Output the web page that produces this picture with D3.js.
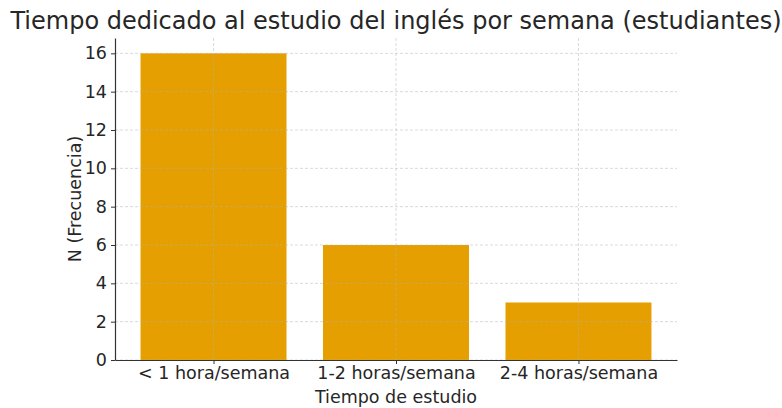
<!DOCTYPE html>
<html><head><meta charset="utf-8">
<script src="https://cdn.jsdelivr.net/npm/d3@7"></script>
<style>
body{margin:0;background:#fff;}
svg{display:block;font-family:"DejaVu Sans",sans-serif;}
</style></head>
<body><svg id="c" width="782" height="408"></svg>
<script>
const categories = ["< 1 hora/semana", "1-2 horas/semana", "2-4 horas/semana"];
const values = [16, 6, 3];
const yTicks = [0, 2, 4, 6, 8, 10, 12, 14, 16];
const title = "Tiempo dedicado al estudio del inglés por semana (estudiantes)";
const xLabel = "Tiempo de estudio";
const yLabel = "N (Frecuencia)";

const svg = d3.select("#c");
const L = 115, R = 677, T = 38, B = 360;
const textColor = "#262626";

const x = d3.scaleLinear().domain([-0.54, 2.54]).range([L, R]);
const y = d3.scaleLinear().domain([0, 16.8]).range([B, T]);
const bw = x(0.8) - x(0);

// bars
svg.append("g").selectAll("rect").data(values).join("rect")
  .attr("x", (d,i) => x(i) - bw/2)
  .attr("y", d => y(d))
  .attr("width", bw)
  .attr("height", d => y(0) - y(d))
  .attr("fill", "#E69F00");

// grid
const grid = svg.append("g").attr("stroke", "#b0b0b0").attr("stroke-opacity", 0.6)
  .attr("stroke-dasharray", "3,2").attr("stroke-width", 0.8);
grid.selectAll("line.h").data(yTicks).join("line").attr("class","h")
  .attr("x1", L).attr("x2", R).attr("y1", d => y(d)).attr("y2", d => y(d));
grid.selectAll("line.v").data(categories).join("line").attr("class","v")
  .attr("y1", T).attr("y2", B).attr("x1", (d,i) => x(i)).attr("x2", (d,i) => x(i));

// axes
const yAxis = d3.axisLeft(y).tickValues(yTicks).tickSize(4).tickPadding(4).tickSizeOuter(0);
const gy = svg.append("g").attr("transform", `translate(${L},0)`).call(yAxis);
gy.select(".domain").attr("stroke", "#333").attr("stroke-width", 1.2);
gy.selectAll(".tick line").attr("stroke", "#333");
gy.selectAll(".tick text").attr("font-size", 17.5).attr("fill", textColor).attr("font-family", "DejaVu Sans");

const xAxis = d3.axisBottom(x).tickValues([0,1,2]).tickFormat((d) => categories[d]).tickSize(4).tickPadding(3).tickSizeOuter(0);
const gx = svg.append("g").attr("transform", `translate(0,${B})`).call(xAxis);
gx.select(".domain").attr("stroke", "#333").attr("stroke-width", 1.2);
gx.selectAll(".tick line").attr("stroke", "#333");
gx.selectAll(".tick text").attr("font-size", 17.5).attr("fill", textColor).attr("font-family", "DejaVu Sans");

// labels
svg.append("text").attr("x", (L+R)/2).attr("y", 28.5).attr("text-anchor", "middle")
  .attr("font-size", 24).attr("fill", textColor).text(title);
svg.append("text").attr("x", (L+R)/2).attr("y", 403).attr("text-anchor", "middle")
  .attr("font-size", 17.5).attr("fill", textColor).text(xLabel);
svg.append("text").attr("transform", `translate(81,${(T+B)/2}) rotate(-90)`).attr("text-anchor", "middle")
  .attr("font-size", 17.5).attr("fill", textColor).text(yLabel);
</script></body></html>
